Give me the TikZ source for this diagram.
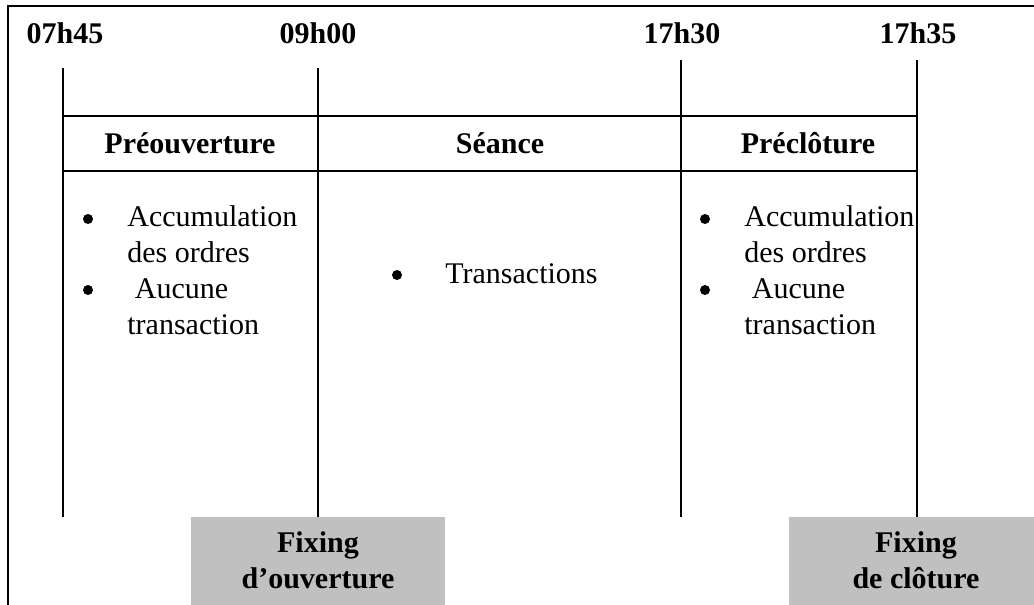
\documentclass[tikz,border=0pt]{standalone}
\usepackage{fontspec}
\setmainfont{Liberation Serif}
\definecolor{fixgray}{RGB}{192,192,192}
\newcommand\phasefont{\fontsize{15}{18}\selectfont}

\begin{document}
\begin{tikzpicture}[x=0.5pt,y=-0.5pt,
    heure/.style={anchor=base,inner sep=0pt,font=\phasefont\bfseries},
    phase/.style={anchor=base,inner sep=0pt,font=\phasefont\bfseries},
    puce/.style={circle,fill=black,inner sep=0pt,minimum size=5pt},
    detail/.style={anchor=base west,inner sep=0pt,align=left,font=\phasefont},
    fixing/.style={fill=fixgray,inner sep=0pt,minimum height=44pt,anchor=north west},
    fixtext/.style={anchor=base,inner sep=0pt,align=center,font=\phasefont\bfseries}]
  \useasboundingbox (0,0) rectangle (1034,605);

  \node [heure] (h1) at (65,43) {07h45};
  \node [heure] (h2) at (318,43) {09h00};
  \node [heure] (h3) at (682,43) {17h30};
  \node [heure] (h4) at (918,43) {17h35};

  \coordinate (a1) at (63,68);  \coordinate (b1) at (63,517);
  \coordinate (a2) at (318,68); \coordinate (b2) at (318,517);
  \coordinate (a3) at (681,60); \coordinate (b3) at (681,517);
  \coordinate (a4) at (917,60); \coordinate (b4) at (917,517);
  \coordinate (l1) at (63,116); \coordinate (r1) at (917,116);
  \coordinate (l2) at (63,171); \coordinate (r2) at (917,171);

  \node [fixing, minimum width=127pt] (fo) at (191,517) {};
  \node [fixing, minimum width=122.5pt] (fc) at (789,517) {};

  \draw [line width = 1.2pt] (8,605) -- (8,6) -- (1034,6);
  \draw [line width = 1pt] (a1) -- (b1);
  \draw [line width = 1pt] (a2) -- (b2);
  \draw [line width = 1pt] (a3) -- (b3);
  \draw [line width = 1pt] (a4) -- (b4);
  \draw [line width = 1pt] (l1) -- (r1);
  \draw [line width = 1pt] (l2) -- (r2);

  \node [phase] (p1) at (190,153) {Préouverture};
  \node [phase] (p2) at (500,153) {Séance};
  \node [phase] (p3) at (808,153) {Préclôture};

  \node [puce] (d1) at (88,219) {};
  \node [detail] (e1) at (127,262) {Accumulation\\des ordres};
  \node [puce] (d2) at (88,290) {};
  \node [detail] (e2) at (127,334) {\ Aucune\\transaction};

  \node [puce] (d3) at (397,275) {};
  \node [detail] (e3) at (445,283) {Transactions};

  \node [puce] (d4) at (705,219) {};
  \node [detail] (e4) at (744,262) {Accumulation\\des ordres};
  \node [puce] (d5) at (705,290) {};
  \node [detail] (e5) at (744,334) {\ Aucune\\transaction};

  \node [fixtext] (f1) at (318,588) {Fixing\\d’ouverture};
  \node [fixtext] (f2) at (916,588) {Fixing\\de clôture};
\end{tikzpicture}
\end{document}
